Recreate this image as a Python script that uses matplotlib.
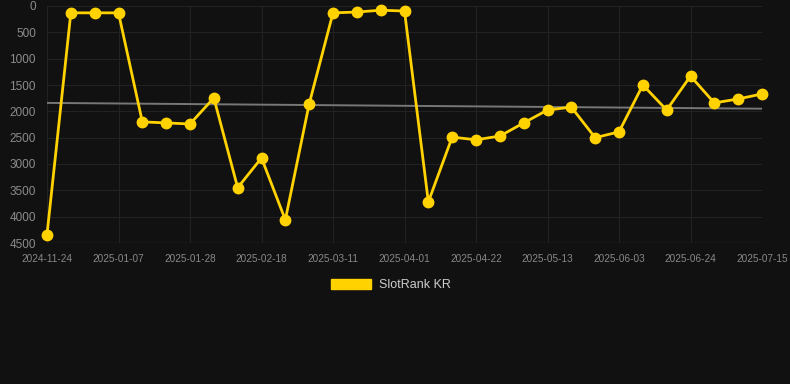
import numpy as np
import matplotlib
matplotlib.use("Agg")
import matplotlib.pyplot as plt
from matplotlib.patches import Patch

# weekly ranks (lower is better, axis inverted)
rank = [4340, 130, 130, 130, 2200, 2220, 2240, 1745, 3450, 2885, 4060,
        1860, 130, 115, 80, 95, 3720, 2490, 2540, 2470, 2220, 1975,
        1920, 2500, 2390, 1500, 1975, 1330, 1840, 1765, 1670]

# trend line value at first and last point
trend = [1840, 1950]

# labels shown on every third point
tick_labels = ["2024-11-24", "2025-01-07", "2025-01-28", "2025-02-18",
               "2025-03-11", "2025-04-01", "2025-04-22", "2025-05-13",
               "2025-06-03", "2025-06-24", "2025-07-15"]
y_ticks = [0, 500, 1000, 1500, 2000, 2500, 3000, 3500, 4000, 4500]

bg = "#111111"
yellow = "#FFD200"
plt.rcParams['font.family'] = ['Liberation Sans', 'DejaVu Sans']

fig = plt.figure(figsize=(7.9, 3.84), dpi=100, facecolor=bg)
ax = fig.add_axes([47/790, 1-243/384, (762-47)/790, (243-6)/384])
ax.set_facecolor(bg)

x = np.arange(len(rank))

ax.plot([x[0], x[-1]], trend, color="#777777", lw=1.4, zorder=2)
ax.plot(x, rank, color=yellow, lw=2.0, marker='o', markersize=7.5,
        zorder=3, clip_on=False)

ax.set_xlim(0, len(rank) - 1)
ax.set_ylim(4500, 0)
ax.set_xticks(x[::3])
ax.set_xticklabels(tick_labels)
ax.set_yticks(y_ticks)

ax.grid(True, color="#222222", lw=0.8)
ax.set_axisbelow(True)
for s in ax.spines.values():
    s.set_visible(False)
ax.axhline(4500, color="#2a2a2a", lw=1, zorder=1)

ax.tick_params(axis='x', colors="#888888", labelsize=7.2, length=0, pad=8)
ax.tick_params(axis='y', colors="#8c8c8c", labelsize=8.5, length=0, pad=8)

fig.legend(handles=[Patch(color=yellow, label="SlotRank KR")],
           loc='center', bbox_to_anchor=(391/790, 1-285/384),
           frameon=False, fontsize=9, labelcolor="#cccccc",
           handlelength=3.2, handleheight=0.95, handletextpad=0.6)

fig.savefig("out.png", dpi=100, facecolor=bg)
